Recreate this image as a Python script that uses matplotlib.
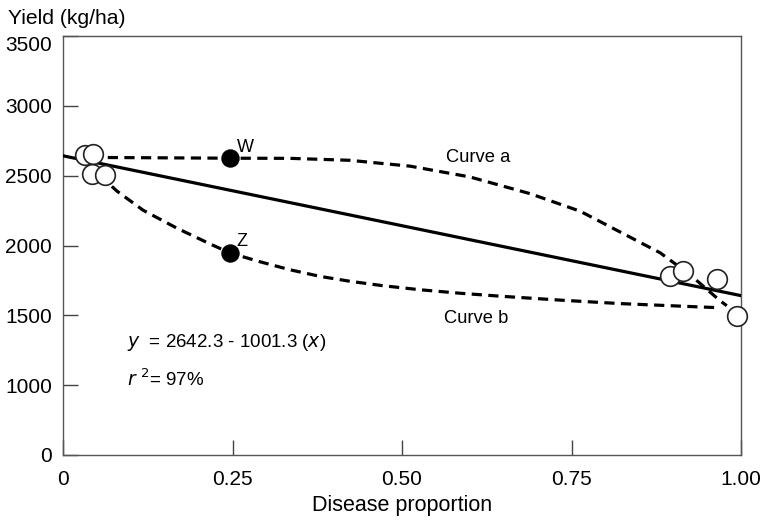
import numpy as np
import matplotlib
matplotlib.use("Agg")
import matplotlib.pyplot as plt

plt.rcParams["font.family"] = ["Liberation Sans", "DejaVu Sans"]

# open circles: observed plots
obs_x = [0.032, 0.044, 0.043, 0.062, 0.895, 0.914, 0.965, 0.994]
obs_y = [2651, 2655, 2509, 2505, 1783, 1818, 1762, 1498]

# filled points W and Z
wz_labels = ["W", "Z"]
wz_x = [0.246, 0.246]
wz_y = [2623, 1947]

# regression y = a + b x
reg_a = 2642.3
reg_b = -1001.3
reg_x = [0.0, 1.0]

# hand-drawn dashed curves
curve_a_x = [0.066, 0.246, 0.335, 0.423, 0.512, 0.600, 0.689, 0.763, 0.822, 0.881, 0.925, 0.969, 0.979]
curve_a_y = [2630, 2625, 2624, 2610, 2568, 2491, 2371, 2245, 2096, 1947, 1790, 1605, 1569]
curve_b_x = [0.072, 0.080, 0.118, 0.168, 0.217, 0.246, 0.291, 0.335, 0.379, 0.423, 0.472,
             0.527, 0.586, 0.645, 0.733, 0.822, 0.910, 0.965]
curve_b_y = [2423, 2388, 2253, 2124, 2011, 1947, 1883, 1826, 1779, 1744, 1712,
             1683, 1658, 1637, 1609, 1584, 1566, 1555]

x_ticks = [0, 0.25, 0.5, 0.75, 1.0]
x_labels = ["0", "0.25", "0.50", "0.75", "1.00"]
y_ticks = [0, 1000, 1500, 2000, 2500, 3000, 3500]


# bottom part of the y axis (0-1000) is compressed to half
def fwd(y):
    y = np.asarray(y, dtype=float)
    return np.where(y >= 1000, y, 500 + y / 2)


def inv(f):
    f = np.asarray(f, dtype=float)
    return np.where(f >= 1000, f, 2 * (f - 500))


fig = plt.figure(figsize=(7.71, 5.21), dpi=100)
ax = fig.add_axes([63 / 771, 1 - 455 / 521, (741 - 63) / 771, (455 - 36) / 521])
ax.set_yscale("function", functions=(fwd, inv))

dash = (0, (3.2, 2.0))
ax.plot(curve_a_x, curve_a_y, color="black", lw=2.3, ls=dash, zorder=2)
ax.plot(curve_b_x, curve_b_y, color="black", lw=2.3, ls=dash, zorder=2)

reg_y = [reg_a + reg_b * x for x in reg_x]
ax.plot(reg_x, reg_y, color="black", lw=2.3, zorder=3)

ax.scatter(obs_x, obs_y, s=200, facecolor="white", edgecolor="#222222",
           linewidth=1.2, zorder=4, clip_on=False)
ax.scatter(wz_x, wz_y, s=150, color="black", zorder=5)
for lab, x, y in zip(wz_labels, wz_x, wz_y):
    ax.annotate(lab, (x, y), xytext=(5, 5), textcoords="offset points",
                fontsize=13)

ax.text(0.612, 2570, "Curve a", fontsize=13.2, ha="center", va="bottom")
ax.text(0.610, 1480, "Curve b", fontsize=13.2, ha="center", va="center")

ax.text(0.095, 1305, r"$y$  = 2642.3 - 1001.3 ($x$)", fontsize=13.5, va="center")
ax.text(0.095, 1045, r"$r$ $^2$= 97%", fontsize=13.5, va="center")

ax.set_xlim(0, 1.0)
ax.set_ylim(0, 3500)
ax.set_xticks(x_ticks)
ax.set_xticklabels(x_labels)
ax.set_yticks(y_ticks)
ax.set_yticklabels([str(v) for v in y_ticks])
ax.get_yticklabels()[-1].set_verticalalignment("top")

ax.tick_params(axis="x", direction="in", length=11, width=1.0, color="#444444",
               labelsize=15, pad=11)
ax.tick_params(axis="y", direction="in", length=11, width=1.0, color="#444444",
               labelsize=15, pad=8)
for sp in ax.spines.values():
    sp.set_color("#555555")
    sp.set_linewidth(1.0)

ax.set_xlabel("Disease proportion", fontsize=15.5, labelpad=4)
fig.text(8 / 771, 1 - 18 / 521, "Yield (kg/ha)", fontsize=15.2, va="center")

fig.savefig("out.png", dpi=100)
